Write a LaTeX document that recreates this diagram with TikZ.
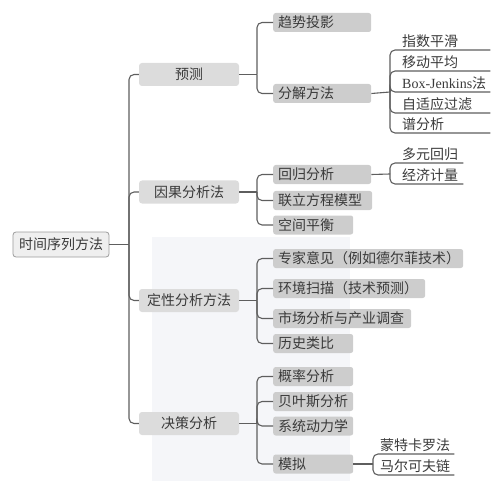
\documentclass[tikz,border=0pt]{standalone}
\usepackage{fontspec}
\setmainfont{Liberation Serif}
\newfontfamily\cjk{Noto Sans CJK SC}
\definecolor{linec}{HTML}{5E5E5E}
\definecolor{txtc}{HTML}{3A3A3A}
\definecolor{rootfill}{HTML}{EFEFEF}
\definecolor{rootdraw}{HTML}{9C9C9C}
\definecolor{lonefill}{HTML}{DCDCDC}
\definecolor{ltwofill}{HTML}{CDCDCD}
\definecolor{wmark}{HTML}{F5F6F9}
\begin{document}
\begin{tikzpicture}[x=1bp,y=-1bp,
  every node/.style={font=\cjk\fontsize{14bp}{16bp}\selectfont, text=txtc},
  rootbox/.style={draw=rootdraw, line width=0.8bp, fill=rootfill, rounded corners=3bp,
    minimum width=96bp, minimum height=25bp, inner sep=0pt},
  lonebox/.style={fill=lonefill, rounded corners=3bp, minimum width=100bp,
    minimum height=23bp, inner sep=0pt},
  ltwobox/.style={fill=ltwofill, rounded corners=2.5bp, anchor=west, align=left,
    text width=#1, inner xsep=5bp, inner ysep=0pt, minimum height=19bp},
  leafnode/.style={anchor=south west, align=left, text width=#1, inner xsep=0pt,
    inner ysep=2bp},
  conn/.style={draw=linec, line width=1.1bp, rounded corners=5bp}
]
\useasboundingbox (0,0) rectangle (500,481);
\fill[wmark] (152,237) rectangle (350,481);

% root and level 1
\node[rootbox] (root) at (61,244.5) {时间序列方法};
\node[lonebox] (p1) at (189,74.5) {预测};
\node[lonebox] (p2) at (189,192) {因果分析法};
\node[lonebox] (p3) at (189,300.5) {定性分析方法};
\node[lonebox] (p4) at (189,423.5) {决策分析};

% level 2
\node[ltwobox=88bp] (a1) at (273,22.5) {趋势投影};
\node[ltwobox=88bp] (a2) at (273,93.5) {分解方法};
\node[ltwobox=88bp] (b1) at (273,174.5) {回归分析};
\node[ltwobox=89bp] (b2) at (273,200.5) {联立方程模型};
\node[ltwobox=70bp] (b3) at (273,225) {空间平衡};
\node[ltwobox=180bp] (c1) at (273,258.5) {专家意见（例如德尔菲技术）};
\node[ltwobox=142bp] (c2) at (273,288.5) {环境扫描（技术预测）};
\node[ltwobox=128bp] (c3) at (273,318.5) {市场分析与产业调查};
\node[ltwobox=70bp] (c4) at (273,343.5) {历史类比};
\node[ltwobox=70bp] (d1) at (273,376.5) {概率分析};
\node[ltwobox=70bp] (d2) at (273,401.5) {贝叶斯分析};
\node[ltwobox=70bp] (d3) at (273,426) {系统动力学};
\node[ltwobox=70bp] (d4) at (273,464) {模拟};

% leaves
\node[leafnode=100bp] (e1) at (390,50) {\hspace*{12bp}指数平滑};
\node[leafnode=100bp] (e2) at (390,71) {\hspace*{12bp}移动平均};
\node[leafnode=100bp] (e3) at (390,92) {\hspace*{12bp}{\rmfamily Box-Jenkins}法};
\node[leafnode=100bp] (e4) at (390,113) {\hspace*{12bp}自适应过滤};
\node[leafnode=100bp] (e5) at (390,133) {\hspace*{12bp}谱分析};
\node[leafnode=73bp] (f1) at (390,163) {\hspace*{12bp}多元回归};
\node[leafnode=73bp] (f2) at (390,184) {\hspace*{12bp}经济计量};
\node[leafnode=81bp] (g1) at (373,454) {\hspace*{7bp}蒙特卡罗法};
\node[leafnode=81bp] (g2) at (373,475) {\hspace*{7bp}马尔可夫链};

% junctions
\coordinate (j0) at (129,244.5);
\coordinate (j1) at (257,74.5);
\coordinate (j2) at (257,192);
\coordinate (j3) at (257,300.5);
\coordinate (j4) at (257,423.5);
\coordinate (ja) at (390,92);
\coordinate (jb) at (390,174);
\coordinate (jd) at (373,464);

% connectors
\draw[conn] (root.east) -- (j0);
\foreach \n in {p1,p2,p3,p4} \draw[conn] (j0) |- (\n.west);
\draw[conn] (p1.east) -- (j1);
\draw[conn] (p2.east) -- (j2);
\draw[conn] (p3.east) -- (j3);
\draw[conn] (p4.east) -- (j4);
\foreach \n in {a1,a2} \draw[conn] (j1) |- (\n.west);
\foreach \n in {b1,b2,b3} \draw[conn] (j2) |- (\n.west);
\foreach \n in {c1,c2,c3,c4} \draw[conn] (j3) |- (\n.west);
\foreach \n in {d1,d2,d3,d4} \draw[conn] (j4) |- (\n.west);
\draw[conn] (a2.east) -- (ja);
\draw[conn] (b1.east) -- (jb);
\draw[conn] (d4.east) -- (jd);
\foreach \n in {e1,e2,e3,e4,e5} \draw[conn] (ja) |- (\n.south east);
\foreach \n in {f1,f2} \draw[conn] (jb) |- (\n.south east);
\foreach \n in {g1,g2} \draw[conn] (jd) |- (\n.south east);
\end{tikzpicture}
\end{document}
